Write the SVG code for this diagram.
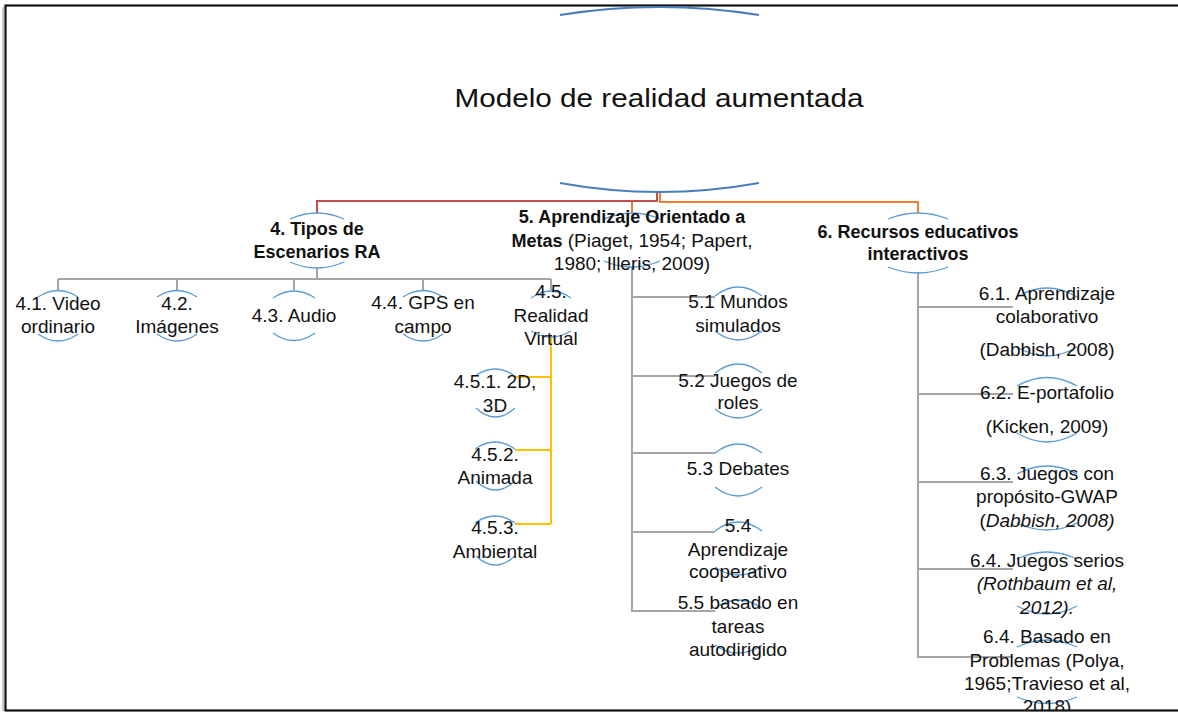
<svg xmlns="http://www.w3.org/2000/svg" width="1178" height="713" viewBox="0 0 1178 713">
<style>
text{font-family:"Liberation Sans",Arial,sans-serif;font-size:19px;fill:#111;text-anchor:middle}
.b{font-weight:bold;font-size:18px}
.i{font-style:italic}
.t{font-size:26px}
.arc{fill:none;stroke:#5b9bd5;stroke-width:1.3}
.arcR{fill:none;stroke:#4a7ebb;stroke-width:2.2}
.g{fill:none;stroke:#a5a5a5;stroke-width:2}
.y{fill:none;stroke:#ffc000;stroke-width:2}
.r{fill:none;stroke:#c0504d;stroke-width:2}
.o{fill:none;stroke:#ed7d31;stroke-width:2}
</style>
<defs>
<clipPath id="clip"><rect x="0" y="0" width="1178" height="710"/></clipPath>
</defs>
<rect x="0" y="0" width="1178" height="713" fill="#fff"/>
<line x1="3" y1="7" x2="3" y2="711" stroke="#c8c8c8" stroke-width="2"/>
<rect x="5.5" y="5.5" width="1180" height="705" fill="none" stroke="#111" stroke-width="2.2"/>

<g id="connectors">
<path class="r" d="M657,192 V201 H317 V213"/>
<path class="o" d="M660,192 V202 H918 V213 M632,202 V213"/>
<path class="g" d="M317,268 V279 M58,279 H551 M58,279 V290 M177,279 V290 M294,279 V290 M423,279 V290 M551,279 V290"/>
<path class="y" d="M551,337 V524 M515,377 H551 M515,450 H551 M515,524 H551"/>
<path class="g" d="M632,267 V611 H715 M632,297 H715 M632,376 H715 M632,453 H715 M632,532 H715"/>
<path class="g" d="M918,272 V657 H1013 M918,307 H1013 M918,394 H1013 M918,482 H1013 M918,569 H1013"/>
</g>

<g id="root">
<path class="arcR" d="M560,15 Q659,-1 759,15"/>
<path class="arcR" d="M560,183 Q659,201 759,183"/>
<text class="t" x="659" y="107" textLength="409" lengthAdjust="spacingAndGlyphs">Modelo de realidad aumentada</text>
</g>

<g id="n4">
<path class="arc" d="M290,219 Q317,207 344,219"/>
<path class="arc" d="M290,262 Q317,274 344,262"/>
<text class="b" x="317" y="235">4. Tipos de</text>
<text class="b" x="317" y="258">Escenarios RA</text>
</g>

<g id="n5">
<path class="arc" d="M604,219 Q632,207 660,219"/>
<path class="arc" d="M604,261 Q632,273 660,261"/>
<text class="b" x="632" y="223">5. Aprendizaje Orientado a</text>
<text x="632" y="247"><tspan class="b">Metas</tspan> (Piaget, 1954; Papert,</text>
<text x="632" y="270">1980; Illeris, 2009)</text>
</g>

<g id="n6">
<path class="arc" d="M888,219 Q918,207 948,219"/>
<path class="arc" d="M888,267 Q918,279 948,267"/>
<text class="b" x="918" y="238">6. Recursos educativos</text>
<text class="b" x="918" y="260">interactivos</text>
</g>

<g id="n4_1">
<path class="arc" d="M38,297 Q58,284 78,297"/>
<path class="arc" d="M38,334 Q58,348 78,334"/>
<text x="58" y="310">4.1. Video</text>
<text x="58" y="333">ordinario</text>
</g>
<g id="n4_2">
<path class="arc" d="M157,297 Q177,284 197,297"/>
<path class="arc" d="M157,334 Q177,348 197,334"/>
<text x="177" y="310">4.2.</text>
<text x="177" y="333">Imágenes</text>
</g>
<g id="n4_3">
<path class="arc" d="M273,298 Q294,284 315,298"/>
<path class="arc" d="M273,333 Q294,348 315,333"/>
<text x="294" y="322">4.3. Audio</text>
</g>
<g id="n4_4">
<path class="arc" d="M403,297 Q423,284 443,297"/>
<path class="arc" d="M403,334 Q423,348 443,334"/>
<text x="423" y="309">4.4. GPS en</text>
<text x="423" y="333">campo</text>
</g>
<g id="n4_5">
<path class="arc" d="M531,298 Q551,284 571,298"/>
<path class="arc" d="M531,331 Q551,343 571,331"/>
<text x="551" y="298">4.5.</text>
<text x="551" y="322">Realidad</text>
<text x="551" y="345">Virtual</text>
</g>
<g id="n4_5_1">
<path class="arc" d="M475,376 Q495,362 515,376"/>
<path class="arc" d="M476,408 Q495,426 515,408"/>
<text x="495" y="388">4.5.1. 2D,</text>
<text x="495" y="412">3D</text>
</g>
<g id="n4_5_2">
<path class="arc" d="M475,449 Q495,435 515,449"/>
<path class="arc" d="M476,481 Q495,499 515,481"/>
<text x="495" y="461">4.5.2.</text>
<text x="495" y="484">Animada</text>
</g>
<g id="n4_5_3">
<path class="arc" d="M475,523 Q495,509 515,523"/>
<path class="arc" d="M476,556 Q495,574 515,556"/>
<text x="495" y="534">4.5.3.</text>
<text x="495" y="558">Ambiental</text>
</g>

<g id="n5_1">
<path class="arc" d="M715,296 Q738,278 762,296"/>
<path class="arc" d="M715,331 Q738,349 762,331"/>
<text x="738" y="308">5.1 Mundos</text>
<text x="738" y="332">simulados</text>
</g>
<g id="n5_2">
<path class="arc" d="M715,373 Q738,355 762,373"/>
<path class="arc" d="M715,409 Q738,427 762,409"/>
<text x="738" y="387">5.2 Juegos de</text>
<text x="738" y="409">roles</text>
</g>
<g id="n5_3">
<path class="arc" d="M715,453 Q738,435 762,453"/>
<path class="arc" d="M715,487 Q738,505 762,487"/>
<text x="738" y="475">5.3 Debates</text>
</g>
<g id="n5_4">
<path class="arc" d="M715,531 Q738,513 762,531"/>
<path class="arc" d="M715,567 Q738,583 762,567"/>
<text x="738" y="532">5.4</text>
<text x="738" y="556">Aprendizaje</text>
<text x="738" y="578">cooperativo</text>
</g>
<g id="n5_5">
<path class="arc" d="M715,608 Q738,592 762,608"/>
<path class="arc" d="M715,645 Q738,661 762,645"/>
<text x="738" y="609">5.5 basado en</text>
<text x="738" y="633">tareas</text>
<text x="738" y="656">autodirigido</text>
</g>

<g id="n6_1">
<path class="arc" d="M1017,297 Q1047,279 1077,297"/>
<path class="arc" d="M1017,347 Q1047,365 1077,347"/>
<text x="1047" y="300">6.1. Aprendizaje</text>
<text x="1047" y="323">colaborativo</text>
<text x="1047" y="356">(Dabbish, 2008)</text>
</g>
<g id="n6_2">
<path class="arc" d="M1017,386 Q1047,369 1077,386"/>
<path class="arc" d="M1017,433 Q1047,451 1077,433"/>
<text x="1047" y="399">6.2. E-portafolio</text>
<text x="1047" y="433">(Kicken, 2009)</text>
</g>
<g id="n6_3">
<path class="arc" d="M1017,474 Q1047,458 1077,474"/>
<path class="arc" d="M1017,523 Q1047,537 1077,523"/>
<text x="1047" y="480">6.3. Juegos con</text>
<text x="1047" y="503">propósito-GWAP</text>
<text x="1047" y="527">(<tspan class="i">Dabbish, 2008)</tspan></text>
</g>
<g id="n6_4">
<path class="arc" d="M1017,559 Q1047,545 1077,559"/>
<path class="arc" d="M1017,606 Q1047,622 1077,606"/>
<text x="1047" y="567">6.4. Juegos serios</text>
<text class="i" x="1047" y="590">(Rothbaum et al,</text>
<text class="i" x="1047" y="614">2012).</text>
</g>
<g id="n6_5" clip-path="url(#clip)">
<path class="arc" d="M1017,647 Q1047,633 1077,647"/>
<path class="arc" d="M1017,697 Q1047,710 1077,697"/>
<text x="1047" y="643">6.4. Basado en</text>
<text x="1047" y="667">Problemas (Polya,</text>
<text x="1047" y="690">1965;Travieso et al,</text>
<text x="1047" y="713">2018)</text>
</g>
</svg>
